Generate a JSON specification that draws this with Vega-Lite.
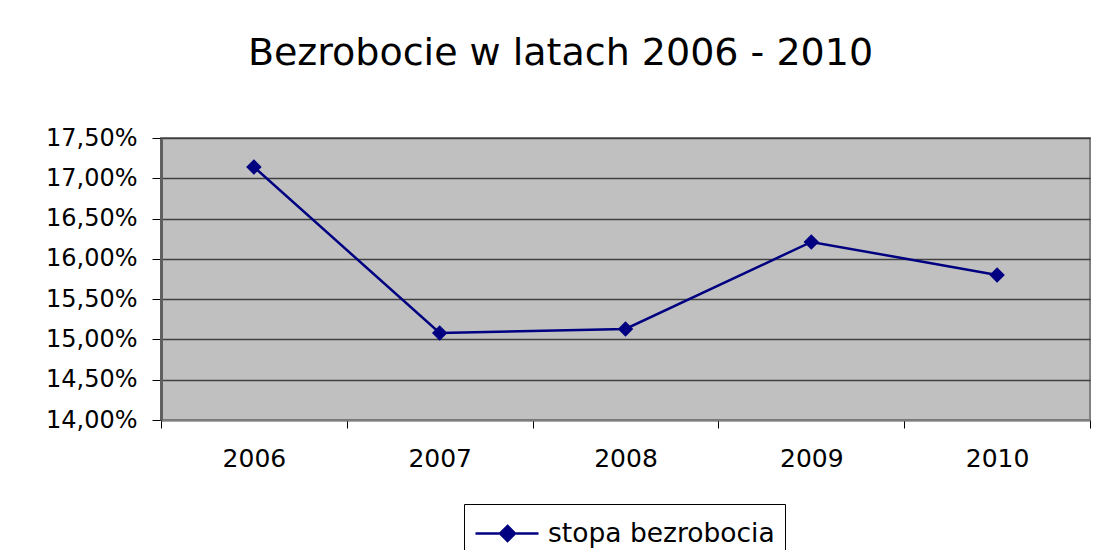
{
  "$schema": "https://vega.github.io/schema/vega-lite/v6.json",
  "width": 929,
  "height": 282,
  "autosize": {"type": "none"},
  "padding": {"left": 161, "top": 138, "right": 6, "bottom": 130},
  "background": "white",
  "title": {
    "text": "Bezrobocie w latach 2006 - 2010",
    "font": "DejaVu Sans",
    "fontSize": 38,
    "fontWeight": "normal",
    "color": "black",
    "anchor": "middle",
    "frame": "group",
    "dx": -65,
    "offset": 53
  },
  "data": {
    "values": [
      {"year": "2006", "rate": 17.14, "series": "stopa bezrobocia"},
      {"year": "2007", "rate": 15.08, "series": "stopa bezrobocia"},
      {"year": "2008", "rate": 15.13, "series": "stopa bezrobocia"},
      {"year": "2009", "rate": 16.21, "series": "stopa bezrobocia"},
      {"year": "2010", "rate": 15.80, "series": "stopa bezrobocia"}
    ]
  },
  "encoding": {
    "x": {
      "field": "year",
      "type": "ordinal",
      "scale": {"type": "band", "paddingInner": 0, "paddingOuter": 0},
      "axis": {
        "title": null,
        "labelAngle": 0,
        "labelFont": "DejaVu Sans",
        "labelFontSize": 25,
        "labelColor": "black",
        "labelPadding": 18,
        "tickBand": "extent",
        "tickSize": 8,
        "tickColor": "black",
        "tickWidth": 1,
        "domainColor": "#808080",
        "domainWidth": 2,
        "grid": false
      }
    },
    "y": {
      "field": "rate",
      "type": "quantitative",
      "scale": {"domain": [14, 17.5], "nice": false, "zero": false},
      "axis": {
        "title": null,
        "values": [14, 14.5, 15, 15.5, 16, 16.5, 17, 17.5],
        "labelExpr": "replace(format(datum.value, '.2f'), '.', ',') + '%'",
        "labelFont": "DejaVu Sans",
        "labelFontSize": 24,
        "labelColor": "black",
        "labelPadding": 15,
        "tickSize": 9,
        "tickColor": "black",
        "tickWidth": 1,
        "domainColor": "#606060",
        "domainWidth": 3,
        "grid": true,
        "gridColor": "#404040",
        "gridWidth": 1.5
      }
    },
    "color": {
      "field": "series",
      "type": "nominal",
      "scale": {"range": ["#000080"]},
      "legend": {
        "orient": "none",
        "legendX": 303,
        "legendY": 366,
        "title": null,
        "strokeColor": "black",
        "padding": 10,
        "labelFont": "DejaVu Sans",
        "labelFontSize": 26.5,
        "labelColor": "black",
        "labelLimit": 400,
        "labelOffset": 35,
        "symbolType": "M-1,0H2.5M0.78,-0.42L1.2,0L0.78,0.42L0.36,0Z",
        "symbolSize": 1296,
        "symbolStrokeWidth": 2.4,
        "symbolFillColor": "#000080",
        "symbolStrokeColor": "#000080",
        "symbolOpacity": 1
      }
    }
  },
  "layer": [
    {"mark": {"type": "line", "strokeWidth": 2.5}},
    {"mark": {"type": "point", "shape": "diamond", "filled": true, "size": 240, "opacity": 1}}
  ],
  "config": {
    "view": {"fill": "#C0C0C0", "stroke": "#808080", "strokeWidth": 2}
  }
}
